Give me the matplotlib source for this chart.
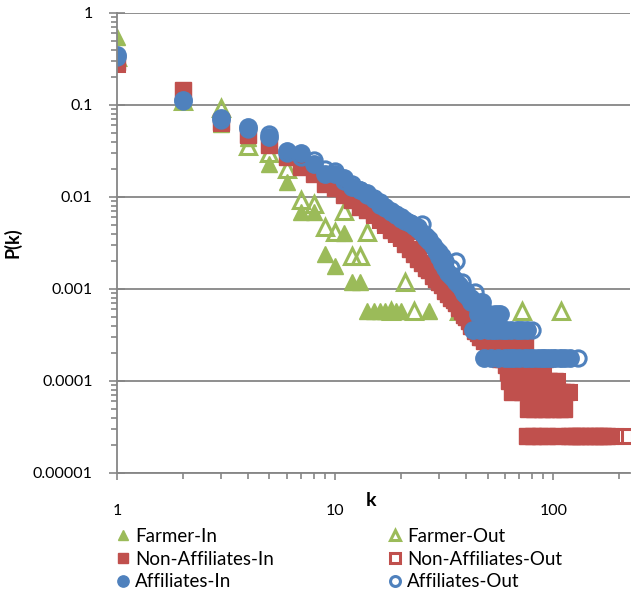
import numpy as np
import matplotlib
matplotlib.use("Agg")
import matplotlib.pyplot as plt
from matplotlib.ticker import LogLocator, NullFormatter

plt.rcParams['font.family'] = ['Lato', 'DejaVu Sans']

# Farmer
farmer_in_k = [1, 2, 3, 4, 5, 6, 7, 8, 9, 10, 11, 12, 13, 14, 15, 16, 17, 18, 19, 20, 27]
farmer_in_p = [0.55, 0.12, 0.062, 0.044, 0.023, 0.0145, 0.0069, 0.0069, 0.0024, 0.0018, 0.0041,
               0.0012, 0.0012, 0.00058, 0.00058, 0.00058, 0.00058, 0.00058, 0.00058, 0.00058, 0.00058]
farmer_out_k = [1, 2, 3, 4, 5, 6, 7, 8, 9, 10, 11, 12, 13, 14, 18, 21, 23, 37, 72, 109]
farmer_out_p = [0.33, 0.11, 0.093, 0.036, 0.030, 0.020, 0.0093, 0.0084, 0.0047, 0.0042, 0.0071,
                0.0023, 0.0023, 0.0042, 0.00058, 0.0012, 0.00058, 0.00058, 0.00058, 0.00058]

# Non-Affiliates
nonaff_in_k = [1, 2, 3, 4, 5, 6, 7, 8, 9, 10, 11, 12, 13, 14, 15, 16, 17, 18, 19, 20,
               21, 22, 23, 24, 25, 26, 27, 28, 29, 30, 31, 32, 33, 34, 35, 36, 37, 38, 39, 40,
               41, 42, 43, 44, 45, 46, 47, 48, 49, 50, 51, 52, 53, 54, 55, 56, 57, 58, 59, 60,
               61, 62, 63, 64, 65, 66, 67, 68, 69, 70, 71, 72, 73, 74, 75, 76, 77, 78, 79, 80,
               81, 82, 83, 84, 85, 86, 87, 88, 89, 90, 91, 92, 93, 94, 96, 98, 100, 102, 104, 106,
               108, 110, 112, 115, 118, 122, 127, 133, 140, 147, 155, 163, 170, 177]
nonaff_in_p = [0.29, 0.145, 0.065, 0.047, 0.037, 0.027, 0.021, 0.018, 0.014, 0.0125,
               0.0105, 0.0092, 0.0078, 0.0072, 0.0066, 0.0060, 0.0052, 0.0044, 0.0041, 0.0037,
               0.0031, 0.0027, 0.0024, 0.0021, 0.0019, 0.0017, 0.0016, 0.0014, 0.0013, 0.0012,
               0.0011, 0.00095, 0.00088, 0.0008, 0.00075, 0.0007, 0.00062, 0.00058, 0.00052, 0.0005,
               0.00045, 0.0004, 0.0004, 0.00035, 0.00033, 0.0003, 0.0003, 0.000275, 0.0003, 0.000275,
               0.00025, 0.000275, 0.000225, 0.000275, 0.0002, 0.000275, 0.000175, 0.00025, 0.000175, 0.000275,
               0.00015, 0.000125, 0.0001, 0.000175, 0.000075, 0.000275, 0.000125, 0.0001, 0.000175, 0.00015,
               0.000275, 0.000075, 0.000125, 0.000275, 0.0001, 0.000025, 0.00005, 0.000175, 0.000075, 0.000125,
               0.000025, 0.00005, 0.0001, 0.000175, 0.000075, 0.00015, 0.000025, 0.000125, 0.00005, 0.0001,
               0.000075, 0.000175, 0.00005, 0.000025, 0.0001, 0.000075, 0.00005, 0.0001, 0.000025, 0.000075,
               0.00005, 0.000075, 0.00005, 0.000075, 0.000025, 0.000025, 0.000025, 0.000025, 0.000025, 0.000025,
               0.000025, 0.000025, 0.000025, 0.000025]
nonaff_out_k = [1, 2, 3, 4, 5, 6, 7, 8, 9, 10, 11, 12, 13, 14, 15, 16, 17, 18, 19, 20,
                21, 22, 23, 24, 25, 26, 27, 28, 29, 30, 32, 34, 36, 38, 40, 42, 44, 46, 48, 50,
                54, 58, 62, 66, 70, 74, 78, 82, 86, 90, 95, 100, 104, 110, 118, 125, 135, 150, 165, 183,
                193, 214]
nonaff_out_p = [0.28, 0.14, 0.063, 0.05, 0.04, 0.028, 0.023, 0.019, 0.015, 0.013,
                0.011, 0.0095, 0.0082, 0.0072, 0.0063, 0.0056, 0.005, 0.0046, 0.004, 0.0036,
                0.0033, 0.003, 0.0026, 0.0023, 0.0021, 0.0018, 0.0016, 0.0015, 0.0013, 0.0012,
                0.001, 0.00085, 0.00072, 0.0006, 0.00052, 0.00045, 0.0004, 0.00035, 0.0003, 0.00025,
                0.000225, 0.0002, 0.00015, 0.000175, 0.000125, 0.0001, 0.00015, 0.000075, 0.000125, 0.00015,
                0.0001, 0.000075, 0.0001, 0.00005, 0.000075, 0.000025, 0.000025, 0.000025, 0.000025, 0.000025,
                0.000025, 0.000025]

# Affiliates
aff_in_k = [1, 2, 3, 4, 5, 6, 7, 8, 9, 10, 11, 12, 13, 14, 15, 16, 17, 18, 19, 20,
            21, 22, 23, 24, 25, 26, 27, 28, 29, 30, 31, 32, 33, 34, 35, 36, 37, 38, 39, 40,
            41, 42, 43, 44, 45, 46, 47, 48, 49, 50, 51, 52, 53, 54, 55, 56, 57, 58, 60, 61,
            63, 64, 66, 68, 70, 72, 74, 76, 78, 81, 85, 89, 93, 97, 102, 107, 113, 120]
aff_in_p = [0.35, 0.113, 0.072, 0.058, 0.045, 0.032, 0.030, 0.023, 0.018, 0.018,
            0.016, 0.013, 0.012, 0.011, 0.0095, 0.0082, 0.0078, 0.0071, 0.0064, 0.006,
            0.0055, 0.0052, 0.0048, 0.0045, 0.0041, 0.0036, 0.0033, 0.003, 0.0026, 0.0022,
            0.0019, 0.0017, 0.0015, 0.0014, 0.0013, 0.0012, 0.0011, 0.001, 0.0009, 0.00086,
            0.0008, 0.00072, 0.00036, 0.00072, 0.00054, 0.00036, 0.00072, 0.00018, 0.00054, 0.00036,
            0.00054, 0.00018, 0.00036, 0.00054, 0.00036, 0.00018, 0.00054, 0.00036, 0.00018, 0.00036,
            0.00018, 0.00036, 0.00018, 0.00036, 0.00018, 0.00036, 0.00018, 0.00036, 0.00018, 0.00018,
            0.00018, 0.00018, 0.00018, 0.00018, 0.00018, 0.00018, 0.00018, 0.00018]
aff_out_k = [1, 2, 3, 4, 5, 6, 7, 8, 9, 10, 11, 12, 13, 14, 15, 16, 17, 18, 19, 20,
             21, 22, 23, 24, 25, 26, 27, 28, 29, 30, 31, 32, 34, 36, 38, 40, 42, 44, 46, 48,
             50, 53, 56, 60, 65, 70, 75, 80, 90, 100, 110, 130]
aff_out_p = [0.33, 0.11, 0.068, 0.055, 0.048, 0.03, 0.027, 0.025, 0.02, 0.019,
             0.015, 0.014, 0.012, 0.0105, 0.0098, 0.0088, 0.0075, 0.0068, 0.0066, 0.0058,
             0.0056, 0.0052, 0.005, 0.0047, 0.0051, 0.0038, 0.0035, 0.0029, 0.0027, 0.0025,
             0.0023, 0.002, 0.0017, 0.002, 0.0012, 0.00095, 0.0008, 0.00093, 0.00072, 0.00054,
             0.00054, 0.00036, 0.00054, 0.00036, 0.00018, 0.00036, 0.00018, 0.00036, 0.00018, 0.00018,
             0.00018, 0.00018]

green = '#9BBB59'
red = '#C0504D'
blue = '#4F81BD'
grid_c = '#868686'

fig = plt.figure(figsize=(6.36, 5.90), dpi=100)
ax = fig.add_axes([117 / 636, 1 - 473 / 590, 513 / 636, 460 / 590])

ax.plot(farmer_in_k, farmer_in_p, ls='none', marker='^', ms=12, mfc=green, mec=green, mew=1, label='Farmer-In')
ax.plot(farmer_out_k, farmer_out_p, ls='none', marker='^', ms=11, mfc='none', mec=green, mew=2.2, label='Farmer-Out')
ax.plot(nonaff_in_k, nonaff_in_p, ls='none', marker='s', ms=11, mfc=red, mec=red, mew=1, label='Non-Affiliates-In')
ax.plot(nonaff_out_k, nonaff_out_p, ls='none', marker='s', ms=10, mfc='none', mec=red, mew=2.2, label='Non-Affiliates-Out')
ax.plot(aff_in_k, aff_in_p, ls='none', marker='o', ms=12.5, mfc=blue, mec=blue, mew=1, label='Affiliates-In')
ax.plot(aff_out_k, aff_out_p, ls='none', marker='o', ms=11, mfc='none', mec=blue, mew=2.2, label='Affiliates-Out')

ax.set_xscale('log')
ax.set_yscale('log')
ax.set_xlim(1, 225)
ax.set_ylim(1e-5, 1)

ax.set_yticks([1e-5, 1e-4, 1e-3, 1e-2, 1e-1, 1])
ax.set_yticklabels(['0.00001', '0.0001', '0.001', '0.01', '0.1', '1'])
ax.set_xticks([1, 10, 100])
ax.set_xticklabels(['1', '10', '100'])
ax.yaxis.set_minor_locator(LogLocator(base=10, subs=np.arange(2, 10), numticks=20))
ax.xaxis.set_minor_locator(LogLocator(base=10, subs=np.arange(2, 10), numticks=20))
ax.yaxis.set_minor_formatter(NullFormatter())
ax.xaxis.set_minor_formatter(NullFormatter())

ax.tick_params(axis='both', which='major', labelsize=11.5, colors=grid_c, labelcolor='black', width=1.2)
ax.tick_params(axis='y', which='major', direction='inout', length=11, pad=12)
ax.tick_params(axis='x', which='major', direction='out', length=5, pad=17)
ax.tick_params(axis='both', which='minor', direction='out', length=4, colors=grid_c, width=1.2)

for s in ['top', 'right']:
    ax.spines[s].set_visible(False)
for s in ['left', 'bottom']:
    ax.spines[s].set_color(grid_c)
    ax.spines[s].set_linewidth(1.3)

ax.grid(True, axis='y', which='major', color=grid_c, lw=1.3)
ax.set_axisbelow(True)

ax.set_ylabel('P(k)', fontsize=13, fontweight='bold', labelpad=8)
fig.text(371 / 636, 1 - 500 / 590, 'k', fontsize=14, fontweight='bold', ha='center', va='center')

handles, labels = ax.get_legend_handles_labels()
leg_kw = dict(frameon=False, fontsize=13.5, markerscale=0.65, handlelength=0.6, handletextpad=0.35,
              labelspacing=0.3, borderpad=0, borderaxespad=0)
left = fig.legend([handles[0], handles[2], handles[4]], [labels[0], labels[2], labels[4]],
                  loc='upper left', bbox_to_anchor=(117 / 636, 1 - 528 / 590), **leg_kw)
right = fig.legend([handles[1], handles[3], handles[5]], [labels[1], labels[3], labels[5]],
                   loc='upper left', bbox_to_anchor=(389 / 636, 1 - 528 / 590), **leg_kw)

fig.savefig('out.png', dpi=100)
